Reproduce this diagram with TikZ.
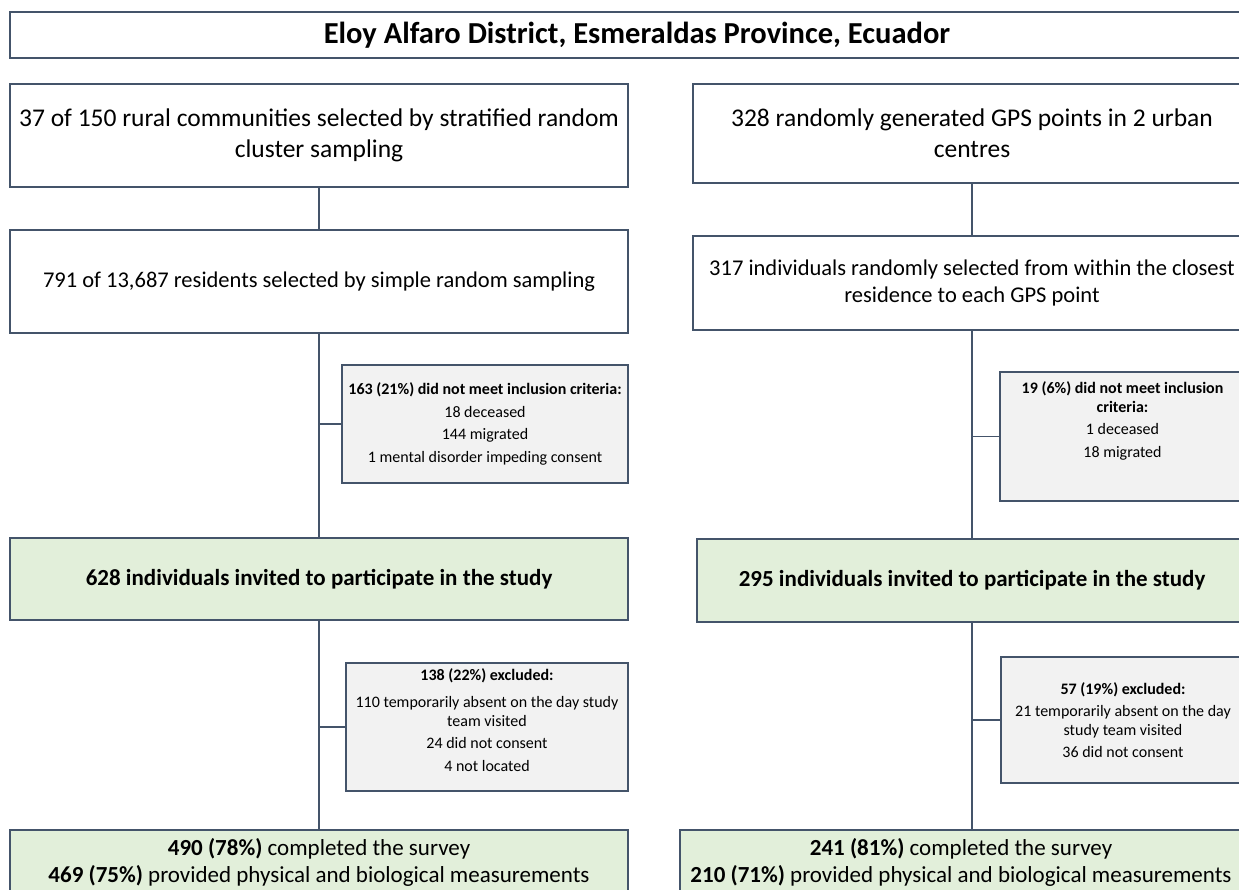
\documentclass[tikz,border=0pt]{standalone}
\usepackage{fontspec}
\setmainfont{Carlito}
\usetikzlibrary{positioning}

\definecolor{boxline}{HTML}{44546A}
\definecolor{greenfill}{HTML}{E2EFDA}
\definecolor{greyfill}{HTML}{F2F2F2}

\begin{document}
\begin{tikzpicture}[
  x=1pt, y=-1pt,
  box/.style={draw=boxline, line width=1.5pt, align=center, inner sep=4pt,
              font=\fontsize{22.5}{27}\selectfont},
  topbox/.style={box, font=\fontsize{25.5}{31}\selectfont},
  titlebox/.style={box, font=\fontsize{30.5}{36}\selectfont\bfseries},
  greenbox/.style={box, fill=greenfill, font=\fontsize{23}{27.5}\selectfont},
  exclbox/.style={box, fill=greyfill, font=\fontsize{16}{18.5}\selectfont},
  link/.style={draw=boxline, line width=1.5pt}]
  \useasboundingbox (0,0) rectangle (1239,889);
  \clip (0,0) rectangle (1239,889);

  \node[titlebox, minimum width=1254pt, minimum height=46pt] (title) at (637,35)
    {Eloy Alfaro District, Esmeraldas Province, Ecuador};

  % rural branch
  \node[topbox, minimum width=618pt, minimum height=103pt] (r1) at (319,135.5)
    {37 of 150 rural communities selected by stratified random\\cluster sampling};
  \node[box, minimum width=618pt, minimum height=103pt] (r2) at (319,281.5)
    {791 of 13,687 residents selected by simple random sampling};
  \node[exclbox, minimum width=286pt, minimum height=118pt] (rx1) at (485,424)
    {\textbf{163 (21\%) did not meet inclusion criteria:}\\[4pt]
     18 deceased\\[4pt] 144 migrated\\[4pt] 1 mental disorder impeding consent};
  \node[greenbox, minimum width=618pt, minimum height=82pt] (r3) at (319,579)
    {\textbf{628 individuals invited to participate in the study}};
  \node[exclbox, minimum width=282pt, minimum height=128pt, text depth=14pt] (rx2) at (487,727)
    {\textbf{138 (22\%) excluded:}\\[9pt]
     110 temporarily absent on the day study\\team visited\\[4pt]
     24 did not consent\\[4pt] 4 not located};
  \node[greenbox, minimum width=618pt, minimum height=65pt] (r4) at (319,862.5)
    {\textbf{490 (78\%)} completed the survey\\
     \textbf{469 (75\%)} provided physical and biological measurements};

  % urban branch
  \node[topbox, minimum width=558pt, minimum height=99pt] (u1) at (972,133.5)
    {328 randomly generated GPS points in 2 urban\\centres};
  \node[box, minimum width=558pt, minimum height=94pt] (u2) at (972,283)
    {317 individuals randomly selected from within the closest\\residence to each GPS point};
  \node[exclbox, minimum width=245pt, minimum height=129pt, text depth=34pt] (ux1) at (1122.5,436.5)
    {\textbf{19 (6\%) did not meet inclusion}\\\textbf{criteria:}\\[4pt]
     1 deceased\\[4pt] 18 migrated};
  \node[greenbox, minimum width=550pt, minimum height=83pt] (u3) at (972,580.5)
    {\textbf{295 individuals invited to participate in the study}};
  \node[exclbox, minimum width=244pt, minimum height=126pt] (ux2) at (1123,720)
    {\textbf{57 (19\%) excluded:}\\[4pt]
     21 temporarily absent on the day\\study team visited\\[4pt]
     36 did not consent};
  \node[greenbox, minimum width=562pt, minimum height=65pt] (u4) at (961,862.5)
    {\textbf{241 (81\%)} completed the survey\\
     \textbf{210 (71\%)} provided physical and biological measurements};

  \draw[link] (r1.south) -- (r2.north);
  \draw[link] (r2.south) -- (r3.north);
  \draw[link] (rx1.west) -- (rx1.west -| r2.south);
  \draw[link] (r3.south) -- (r4.north);
  \draw[link] (rx2.west) -- (rx2.west -| r3.south);

  \draw[link] (u1.south) -- (u2.north);
  \draw[link] (u2.south) -- (u3.north);
  \draw[link] (ux1.west) -- (ux1.west -| u2.south);
  \draw[link] (u3.south) -- (u3.south |- u4.north);
  \draw[link] (ux2.west) -- (ux2.west -| u3.south);
\end{tikzpicture}
\end{document}
